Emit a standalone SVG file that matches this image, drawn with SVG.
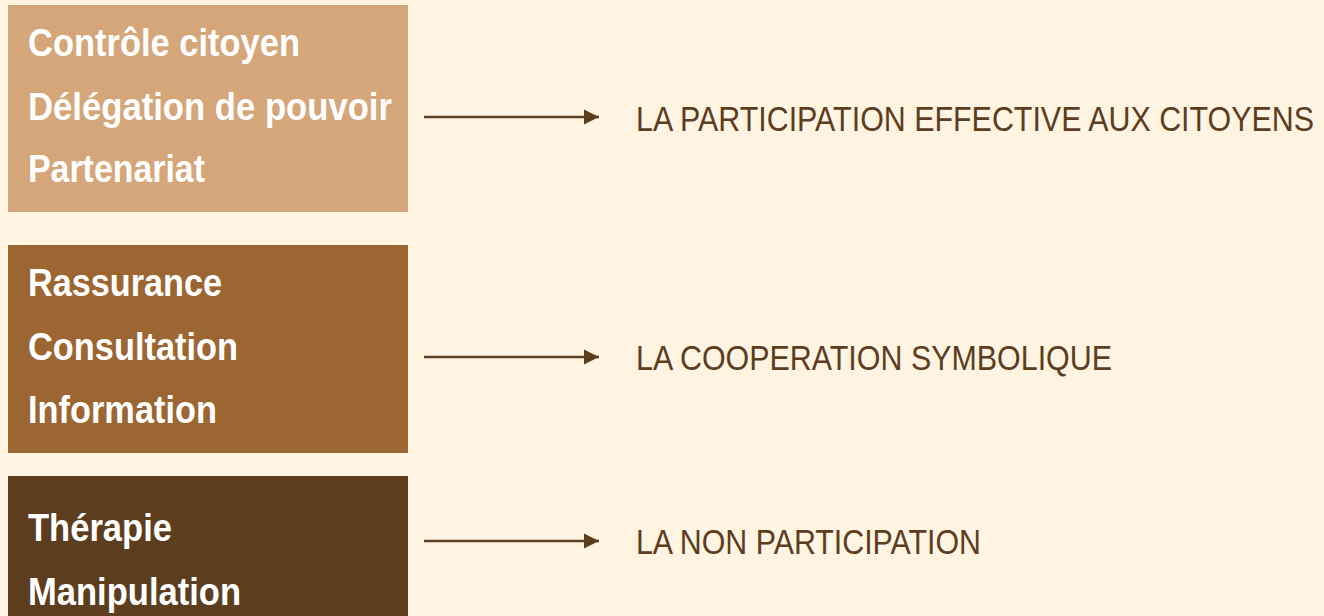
<svg xmlns="http://www.w3.org/2000/svg" width="1324" height="616" viewBox="0 0 1324 616">
<defs>
<style>
.bg{fill:#fff3e2}
.box{stroke:none}
.lbl{font-family:"Liberation Sans",Arial,sans-serif;font-weight:bold;font-size:38.5px;fill:#ffffff}
.res{font-family:"Liberation Sans",Arial,sans-serif;font-size:35px;fill:#5c3d1e}
.conn{stroke:#5c3d1e;stroke-width:2.4;fill:none}
</style>
<marker id="arr" viewBox="0 0 16 16" refX="15" refY="8" markerWidth="16" markerHeight="16" markerUnits="userSpaceOnUse" orient="auto">
<path d="M0,0.5 L15,8 L0,15.5 Z" fill="#5c3d1e"/>
</marker>
</defs>
<rect class="bg" x="0" y="0" width="1324" height="616"/>
<g id="node-participation">
<rect class="box" x="8" y="5" width="400" height="207" fill="#d4a679"/>
<text class="lbl" x="28" y="56" textLength="272" lengthAdjust="spacingAndGlyphs">Contrôle citoyen</text>
<text class="lbl" x="28" y="120" textLength="364" lengthAdjust="spacingAndGlyphs">Délégation de pouvoir</text>
<text class="lbl" x="28" y="182" textLength="177" lengthAdjust="spacingAndGlyphs">Partenariat</text>
</g>
<g id="node-cooperation">
<rect class="box" x="8" y="245" width="400" height="208" fill="#9c6632"/>
<text class="lbl" x="28" y="296" textLength="194" lengthAdjust="spacingAndGlyphs">Rassurance</text>
<text class="lbl" x="28" y="360" textLength="210" lengthAdjust="spacingAndGlyphs">Consultation</text>
<text class="lbl" x="28" y="423" textLength="189" lengthAdjust="spacingAndGlyphs">Information</text>
</g>
<g id="node-nonparticipation">
<rect class="box" x="8" y="476" width="400" height="140" fill="#5c3d1e"/>
<text class="lbl" x="28" y="541" textLength="144" lengthAdjust="spacingAndGlyphs">Thérapie</text>
<text class="lbl" x="28" y="605" textLength="213" lengthAdjust="spacingAndGlyphs">Manipulation</text>
</g>
<g id="result-1">
<text class="res" x="636" y="131" textLength="678" lengthAdjust="spacingAndGlyphs">LA PARTICIPATION EFFECTIVE AUX CITOYENS</text>
</g>
<g id="result-2">
<text class="res" x="636" y="370" textLength="476" lengthAdjust="spacingAndGlyphs">LA COOPERATION SYMBOLIQUE</text>
</g>
<g id="result-3">
<text class="res" x="636" y="554" textLength="345" lengthAdjust="spacingAndGlyphs">LA NON PARTICIPATION</text>
</g>
<g id="connectors">
<line class="conn" x1="424" y1="117" x2="599" y2="117" marker-end="url(#arr)"/>
<line class="conn" x1="424" y1="357" x2="599" y2="357" marker-end="url(#arr)"/>
<line class="conn" x1="424" y1="541" x2="599" y2="541" marker-end="url(#arr)"/>
</g>
</svg>
